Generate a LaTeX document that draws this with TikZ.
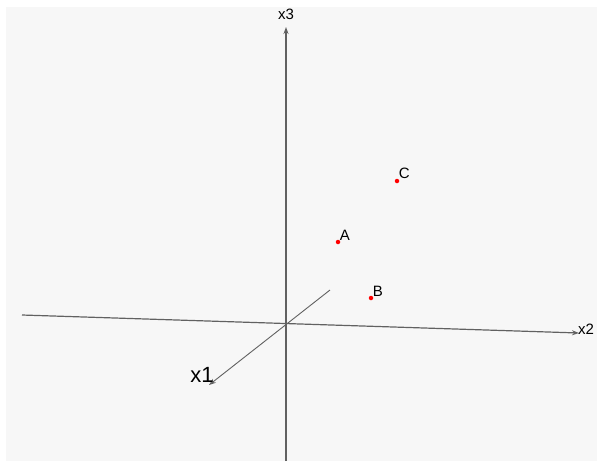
\documentclass[tikz,border=0pt]{standalone}
\usepackage{fontspec}
\setmainfont{Liberation Sans}
\usetikzlibrary{arrows.meta,positioning}

\begin{document}
\begin{tikzpicture}[x=1pt, y=-1pt, >={Stealth[length=7pt,width=5pt,open]},
  axis/.style={draw=black!62, line width=1.2pt},
  pt/.style={circle, fill=red, inner sep=0pt, minimum size=4.5pt},
  lbl/.style={font=\fontsize{15}{15}\selectfont, inner sep=1pt}]
  % background
  \useasboundingbox (0,0) rectangle (597,461);
  \fill[black!3] (6,7) rectangle (597,461);

  % axes
  \coordinate (O) at (286,324);
  \coordinate (x2a) at (22,315);
  \coordinate (x2b) at (579,333);
  \coordinate (x3a) at (286,461);
  \coordinate (x3b) at (286,27);
  \coordinate (x1a) at (330,290);
  \coordinate (x1b) at (209,385);
  \draw[axis, ->] (x2a) -- (x2b);
  \draw[axis, ->] (x3a) -- (x3b);
  \draw[axis, line width=0.9pt, ->] (x1a) -- (x1b);
  \node[lbl, anchor=west, inner sep=0pt] (lx2) at (578,329) {x2};
  \node[lbl, inner sep=0pt] (lx3) at (286,14) {x3};
  \node[font=\fontsize{22}{22}\selectfont, inner sep=0pt] (lx1) at (202,375) {x1};

  % points
  \node[pt] (A) at (338,242) {};
  \node[pt] (B) at (371,298) {};
  \node[pt] (C) at (397,181) {};
  \node[lbl, anchor=south west, inner sep=0pt] at (A.north east) {A};
  \node[lbl, anchor=south west, inner sep=0pt] at (B.north east) {B};
  \node[lbl, anchor=south west, inner sep=0pt] at (C.north east) {C};
\end{tikzpicture}
\end{document}
